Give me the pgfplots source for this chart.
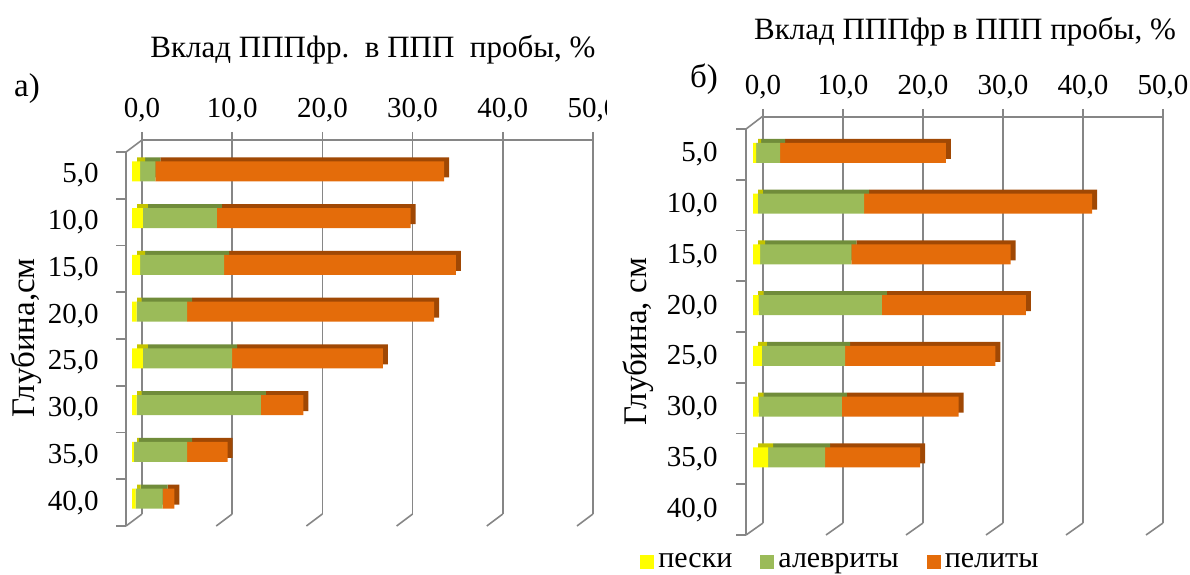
\documentclass[border=0pt]{standalone}
\usepackage{fontspec}
\setmainfont{Liberation Serif}
\usepackage{pgfplots}
\pgfplotsset{compat=1.18}
\usepackage{pgfplotstable}

\definecolor{cY}{RGB}{255,255,0}
\definecolor{cYd}{RGB}{195,195,0}
\definecolor{cG}{RGB}{155,187,89}
\definecolor{cGd}{RGB}{112,140,58}
\definecolor{cO}{RGB}{228,108,10}
\definecolor{cOd}{RGB}{160,72,4}
\definecolor{gridc}{RGB}{134,134,134}

\newcommand\tickfont{\fontsize{14.5}{16}\selectfont}
\newcommand\titlefont{\fontsize{15.5}{17}\selectfont}
\newcommand\labfont{\fontsize{16.5}{18}\selectfont}
\newcommand\legfont{\fontsize{15}{17}\selectfont}

% panel a: depth index, sand (пески), silt (алевриты), clay (пелиты)
\pgfplotstableread{
depth sand silt clay
1 0.9 1.7 32.0
2 1.2 8.2 21.5
3 0.9 9.3 25.7
4 0.5 5.6 27.4
5 1.2 9.9 16.7
6 0.5 13.8 4.7
7 0.2 5.9 4.5
8 0.4 3.0 1.3
}\dataA
% panel b
\pgfplotstableread{
depth sand silt clay
1 0.4 3.0 20.7
2 0.6 13.3 28.5
3 0.9 11.4 19.9
4 0.7 15.4 18.0
5 1.1 10.4 18.8
6 0.7 10.4 14.6
7 1.9 7.1 11.9
8 0.0 0.0 0.0
}\dataB

\pgfplotsset{
  backwall/.style={
    anchor=south west, scale only axis,
    xmin=0, xmax=50, ymin=0, ymax=1,
    hide y axis,
    axis x line*=top,
    x axis line style={gridc, line width=0.8pt, -},
    xtick={0,10,...,50},
    xmajorgrids, grid style={gridc, line width=0.8pt},
    major tick length=4pt, tick align=outside,
    tick style={gridc, line width=0.8pt},
    xticklabel={\pgfmathprintnumber[fixed,fixed zerofill,precision=1,use comma]{\tick}},
    /pgf/number format/assume math mode=true,
    xticklabel style={font=\tickfont, text=black, inner sep=0pt, yshift=5pt},
    clip=false,
  },
  frontwall/.style={
    anchor=south west, scale only axis,
    xmin=0, xmax=50, ymin=0.5, ymax=8.5, y dir=reverse,
    hide x axis,
    axis y line*=left,
    y axis line style={gridc, line width=0.8pt, -},
    ytick={1,...,8},
    yticklabels={{5,0},{10,0},{15,0},{20,0},{25,0},{30,0},{35,0},{40,0}},
    major tick length=0pt,
    minor ytick={0.5,1.5,...,8.5}, minor tick length=5pt, tick align=outside,
    minor tick style={gridc, line width=0.8pt},
    yticklabel style={font=\tickfont, inner sep=0pt},
    clip=false,
  },
  barax/.style={
    anchor=south west, scale only axis,
    xmin=0, xmax=50, ymin=0.5, ymax=8.5, y dir=reverse,
    axis lines=none,
    xbar stacked, bar width=10pt,
    clip=false,
  },
  sq/.style={legend image code/.code={\fill[##1] (0pt,-3.5pt) rectangle (7pt,3.5pt);}},
}

\begin{document}
\begin{tikzpicture}
\path[use as bounding box] (0pt,0pt) rectangle (595pt,287pt);

% ================= panel a =================
\begin{axis}[backwall, at={(71pt,30pt)}, width=225.5pt, height=187pt]
\pgfplotsinvokeforeach{0,10,20,30,40,50}{\draw[gridc, line width=0.8pt] (axis cs:#1,0) -- ++(-8pt,-6pt);}
\end{axis}
\begin{axis}[frontwall, at={(63pt,24pt)}, width=225.5pt, height=187pt,
  yticklabel style={xshift=-13.5pt}]
\draw[gridc, line width=0.8pt] (axis description cs:0,1) -- ++(8pt,6pt);
\end{axis}
\begin{axis}[barax, at={(68.5pt,28pt)}, width=225.5pt, height=187pt]
\addplot[fill=cYd, draw=none] table[x=sand, y=depth]{\dataA};
\addplot[fill=cGd, draw=none] table[x=silt, y=depth]{\dataA};
\addplot[fill=cOd, draw=none] table[x=clay, y=depth]{\dataA};
\end{axis}
\begin{axis}[barax, at={(66pt,26pt)}, width=225.5pt, height=187pt]
\addplot[fill=cY, draw=none] table[x=sand, y=depth]{\dataA};
\addplot[fill=cG, draw=none] table[x=silt, y=depth]{\dataA};
\addplot[fill=cO, draw=none] table[x=clay, y=depth]{\dataA};
\end{axis}
\node[font=\labfont] at (13.5pt,242.5pt) {а)};
\node[font=\titlefont] at (186.5pt,262pt) {Вклад ПППфр.\ \ в ППП\ \ пробы, \%};
\node[font=\labfont, rotate=90] at (13pt,118pt) {Глубина,см};
% the right panel overlaps the end of the left panel's last tick label
\fill[white] (303.5pt,224pt) rectangle (322pt,242pt);

% ================= panel b =================
\begin{axis}[backwall, at={(381.5pt,25.5pt)}, width=200pt, height=203pt]
\pgfplotsinvokeforeach{0,10,20,30,40,50}{\draw[gridc, line width=0.8pt] (axis cs:#1,0) -- ++(-8.5pt,-6pt);}
\end{axis}
\begin{axis}[frontwall, at={(373pt,19.5pt)}, width=200pt, height=203pt,
  yticklabel style={xshift=-14pt}]
\draw[gridc, line width=0.8pt] (axis description cs:0,1) -- ++(8.5pt,6.5pt);
\end{axis}
\begin{axis}[barax, at={(379pt,22.25pt)}, width=200pt, height=203pt]
\addplot[fill=cYd, draw=none] table[x=sand, y=depth]{\dataB};
\addplot[fill=cGd, draw=none] table[x=silt, y=depth]{\dataB};
\addplot[fill=cOd, draw=none] table[x=clay, y=depth]{\dataB};
\end{axis}
\begin{axis}[barax, at={(376.5pt,20.25pt)}, width=200pt, height=203pt,
  legend style={at={(axis description cs:-0.2825,-0.070)}, anchor=west,
    draw=none, fill=none, inner sep=0pt, font=\legfont,
    /tikz/every even column/.append style={column sep=12pt}},
  legend columns=3]
\addplot[fill=cY, draw=none, sq] table[x=sand, y=depth]{\dataB};
\addlegendentry{пески}
\addplot[fill=cG, draw=none, sq] table[x=silt, y=depth]{\dataB};
\addlegendentry{алевриты}
\addplot[fill=cO, draw=none, sq] table[x=clay, y=depth]{\dataB};
\addlegendentry{пелиты}
\end{axis}
\node[font=\labfont] at (352pt,247.5pt) {б)};
\node[font=\titlefont] at (482.5pt,271pt) {Вклад ПППфр в ППП пробы, \%};
\node[font=\labfont, rotate=90] at (319pt,116pt) {Глубина, см};
\end{tikzpicture}
\end{document}
